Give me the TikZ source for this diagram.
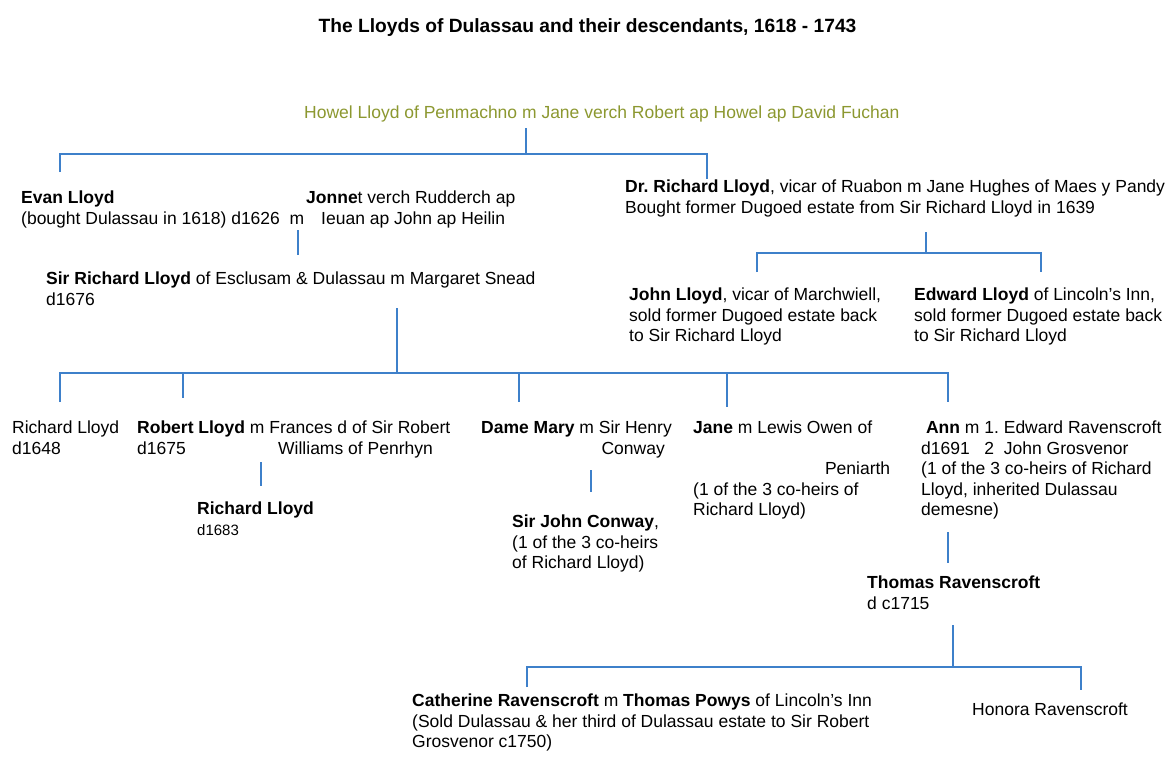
\documentclass[tikz,border=0pt]{standalone}
\usepackage{fontspec}
\setmainfont{Liberation Sans}
\frenchspacing
\definecolor{linkblue}{RGB}{62,128,202}
\definecolor{howelgreen}{RGB}{140,152,48}
\newcommand{\stackl}[1]{\begin{tabular}[t]{@{}l@{}}#1\end{tabular}}
\newcommand{\stackr}[1]{\begin{tabular}[t]{@{}r@{}}#1\end{tabular}}
\tikzset{
  link/.style={draw=linkblue, line width=1.5pt},
  person/.style={anchor=base west, inner sep=0pt, font=\fontsize{17.5}{20.5}\selectfont},
  personr/.style={anchor=base east, inner sep=0pt, font=\fontsize{17.5}{20.5}\selectfont},
  heading/.style={anchor=base, inner sep=0pt, font=\bfseries\fontsize{19.2}{22}\selectfont},
}
\begin{document}
\begin{tikzpicture}[x=1pt,y=-1pt]
\useasboundingbox[fill=white] (0,0) rectangle (1174,757);

% title
\node[heading] (title) at (587.5,33) {The Lloyds of Dulassau and their descendants, 1618 - 1743};

% generation 1
\node[person, text=howelgreen] (howel) at (304,118) {Howel Lloyd of Penmachno m Jane verch Robert ap Howel ap David Fuchan};

% generation 2
\node[person] (evan) at (21,203.5) {\stackl{\textbf{Evan Lloyd}\\(bought Dulassau in 1618) d1626\ \ m}};
\node[person] (jonnet) at (306,203.5) {\stackl{\textbf{Jonne}t verch Rudderch ap\\\hspace*{15pt}Ieuan ap John ap Heilin}};
\node[person] (drrichard) at (625,192.5) {\stackl{\textbf{Dr.\ Richard Lloyd}, vicar of Ruabon m Jane Hughes of Maes y Pandy\\Bought former Dugoed estate from Sir Richard Lloyd in 1639}};

% generation 3
\node[person] (sirrichard) at (46,284.5) {\stackl{\textbf{Sir Richard Lloyd} of Esclusam \& Dulassau m Margaret Snead\\d1676}};
\node[person] (john) at (629,300.5) {\stackl{\textbf{John Lloyd}, vicar of Marchwiell,\\sold former Dugoed estate back\\to Sir Richard Lloyd}};
\node[person] (edward) at (914,300.5) {\stackl{\textbf{Edward Lloyd} of Lincoln’s Inn,\\sold former Dugoed estate back\\to Sir Richard Lloyd}};

% generation 4
\node[person] (rich1648) at (12,433.5) {\stackl{Richard Lloyd\\d1648}};
\node[person] (robert) at (137,433.5) {\stackl{\textbf{Robert Lloyd} m Frances d of Sir Robert\\\makebox[141pt][l]{d1675}Williams of Penrhyn}};
\node[personr] (mary) at (672,433.5) {\stackr{\textbf{Dame Mary} m Sir Henry\\Conway\hspace*{7pt}}};
\node[person] (jane) at (693,433.5) {\stackl{\textbf{Jane} m Lewis Owen of\\ \\\makebox[197pt][r]{Peniarth}\\(1 of the 3 co-heirs of\\Richard Lloyd)}};
\node[person] (ann) at (921,433.5) {\stackl{\ \textbf{Ann} m 1.\ Edward Ravenscroft\\d1691\ \ \ 2\ \ John Grosvenor\\(1 of the 3 co-heirs of Richard\\Lloyd, inherited Dulassau\\demesne)}};

% generation 5
\node[person] (rich1683) at (197,514.5) {\stackl{\textbf{Richard Lloyd}\\{\fontsize{15}{20.5}\selectfont d1683}}};
\node[person] (johnconway) at (512,527.5) {\stackl{\textbf{Sir John Conway},\\(1 of the 3 co-heirs\\of Richard Lloyd)}};
\node[person] (thomas) at (867,588.5) {\stackl{\textbf{Thomas Ravenscroft}\\d c1715}};

% generation 6
\node[person] (catherine) at (412,706.5) {\stackl{\textbf{Catherine Ravenscroft} m \textbf{Thomas Powys} of Lincoln’s Inn\\(Sold Dulassau \& her third of Dulassau estate to Sir Robert\\Grosvenor c1750)}};
\node[person] (honora) at (972,715.5) {Honora Ravenscroft};

% connector points
\coordinate (howelT) at (526,128);
\coordinate (howelB) at (526,154);
\coordinate (barAL) at (60,154);
\coordinate (barAR) at (707,154);
\coordinate (evanT) at (60,172);
\coordinate (drT) at (707,179);

\coordinate (mT) at (298,230);
\coordinate (srT) at (298,255);

\coordinate (srB) at (397,308);
\coordinate (barC) at (397,373);
\coordinate (barCL) at (60,373);
\coordinate (barC2) at (183,373);
\coordinate (barC3) at (519,373);
\coordinate (barC4) at (727,373);
\coordinate (barCR) at (948,373);
\coordinate (r48T) at (60,402);
\coordinate (robT) at (183,398);
\coordinate (maryT) at (519,402);
\coordinate (janeT) at (727,407);
\coordinate (annT) at (948,402);

\coordinate (drB) at (926,232);
\coordinate (barD) at (926,253);
\coordinate (barDL) at (757,253);
\coordinate (barDR) at (1041,253);
\coordinate (johnT) at (757,272);
\coordinate (edT) at (1041,272);

\coordinate (robB) at (261,462);
\coordinate (r83T) at (261,486);
\coordinate (maryB) at (591,470);
\coordinate (jcT) at (591,492);
\coordinate (annB) at (948,532);
\coordinate (thT) at (948,563);

\coordinate (thB) at (953,625);
\coordinate (barE) at (953,667);
\coordinate (barEL) at (527,667);
\coordinate (barER) at (1081,667);
\coordinate (catT) at (527,687);
\coordinate (honT) at (1081,690);

% connectors
\draw[link] (howelT) -- (howelB);
\draw[link] (evanT) -- (barAL) -- (barAR) -- (drT);
\draw[link] (mT) -- (srT);
\draw[link] (srB) -- (barC);
\draw[link] (r48T) -- (barCL) -- (barCR) -- (annT);
\draw[link] (barC2) -- (robT);
\draw[link] (barC3) -- (maryT);
\draw[link] (barC4) -- (janeT);
\draw[link] (drB) -- (barD);
\draw[link] (johnT) -- (barDL) -- (barDR) -- (edT);
\draw[link] (robB) -- (r83T);
\draw[link] (maryB) -- (jcT);
\draw[link] (annB) -- (thT);
\draw[link] (thB) -- (barE);
\draw[link] (catT) -- (barEL) -- (barER) -- (honT);
\end{tikzpicture}
\end{document}
